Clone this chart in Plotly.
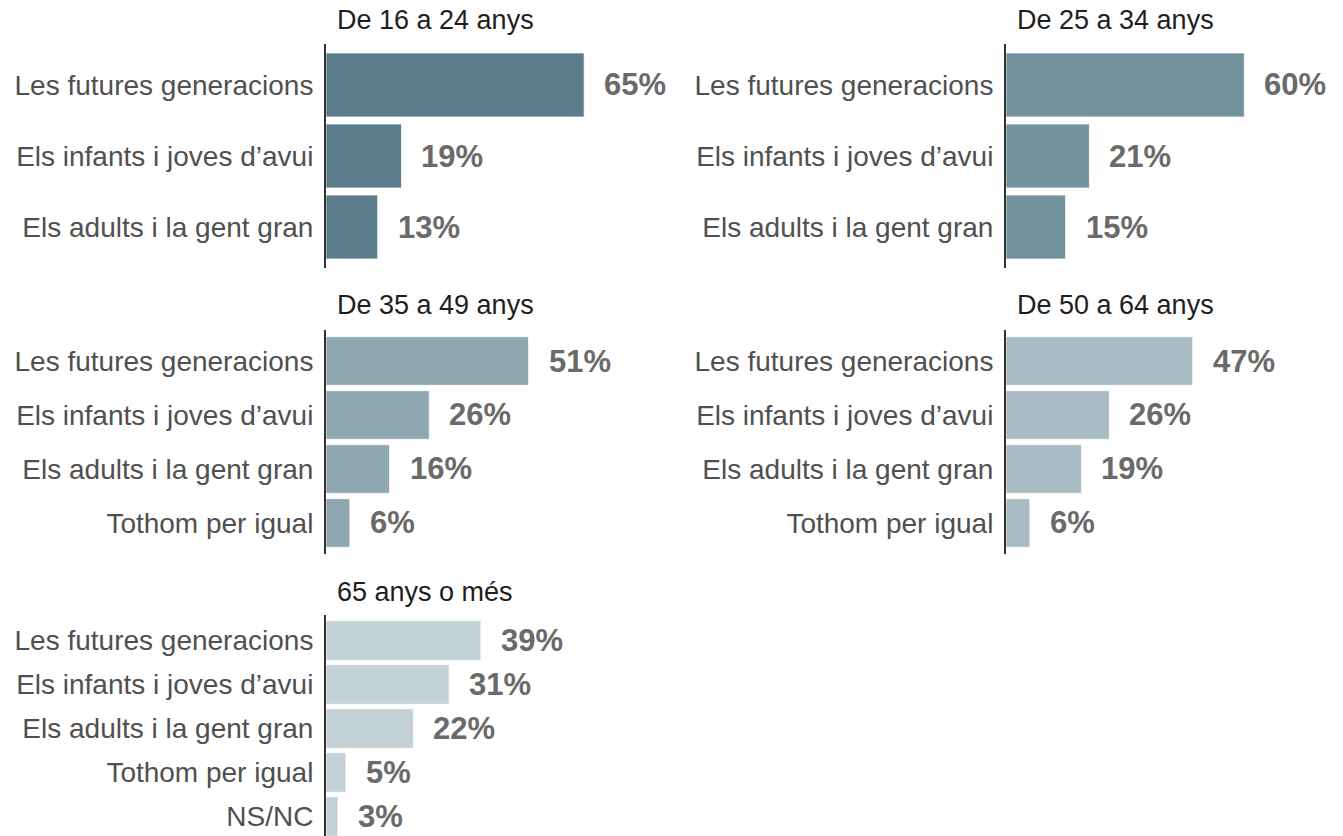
import plotly.graph_objects as go

W, H = 1343, 836

titles = ["De 16 a 24 anys", "De 25 a 34 anys", "De 35 a 49 anys", "De 50 a 64 anys", "65 anys o més"]
cats_a = ["Les futures generacions", "Els infants i joves d’avui", "Els adults i la gent gran"]
cats_b = cats_a + ["Tothom per igual"]
cats_c = cats_b + ["NS/NC"]
categories = [cats_a, cats_a, cats_b, cats_b, cats_c]
values = [
    [65, 19, 13],
    [60, 21, 15],
    [51, 26, 16, 6],
    [47, 26, 19, 6],
    [39, 31, 22, 5, 3],
]
colors = ["#5a7c8b", "#72929d", "#8ea7b1", "#a9bbc3", "#c4d2d8"]

# layout geometry in pixels
col_x = [326, 1006, 326, 1006, 326]
row_px = [(43.8, 268.2), (43.8, 268.2), (329.7, 554.3), (329.7, 554.3), (615, 836)]
ranges = [[2.58, -0.58], [2.58, -0.58], [3.58, -0.58], [3.58, -0.58], [4.443, -0.58]]
title_y = [20, 20, 305, 305, 592]
xw = 278

FONT = "Liberation Sans, Arial, sans-serif"
fig = go.Figure()
annotations = []
layout = {}
for i in range(5):
    n = "" if i == 0 else str(i + 1)
    xa, ya = "x" + n, "y" + n
    fig.add_trace(go.Bar(
        x=values[i], y=categories[i], orientation="h",
        marker=dict(color=colors[i], line=dict(color="rgba(255,255,255,0.7)", width=1)),
        xaxis=xa, yaxis=ya, showlegend=False, hoverinfo="x+y",
    ))
    x0 = col_x[i] / W
    x1 = (col_x[i] + xw) / W
    top, bot = row_px[i]
    layout["xaxis" + n] = dict(domain=[x0, x1], range=[0, 70], visible=False, anchor=ya)
    layout["yaxis" + n] = dict(
        domain=[1 - bot / H, 1 - top / H], range=ranges[i], anchor=xa,
        type="category", categoryorder="array", categoryarray=categories[i],
        showline=True, linecolor="#333333", linewidth=2, showgrid=False, zeroline=False,
        ticks="", ticklabelstandoff=5,
        tickfont=dict(family=FONT, size=28, color="#505050"),
    )
    annotations.append(dict(
        text=titles[i], xref="paper", yref="paper",
        x=(col_x[i] + 9) / W, y=1 - title_y[i] / H, xanchor="left", yanchor="middle",
        showarrow=False, font=dict(family=FONT, size=27, color="#1e1e1e"),
    ))
    for v, c in zip(values[i], categories[i]):
        annotations.append(dict(
            text=f"<b>{v}%</b>", xref=xa, yref=ya, x=v, y=c,
            xanchor="left", yanchor="middle", xshift=18, showarrow=False,
            font=dict(family=FONT, size=31, color="#6a6a6a"),
        ))

fig.update_layout(
    width=W, height=H, margin=dict(l=0, r=0, t=0, b=0),
    paper_bgcolor="white", plot_bgcolor="white", bargap=0.1,
    annotations=annotations, **layout,
)
fig.write_html(
    "out.html",
    config={"displayModeBar": False},
    post_script="document.body.style.margin='0';document.body.style.padding='0';document.body.style.overflow='hidden';",
)
